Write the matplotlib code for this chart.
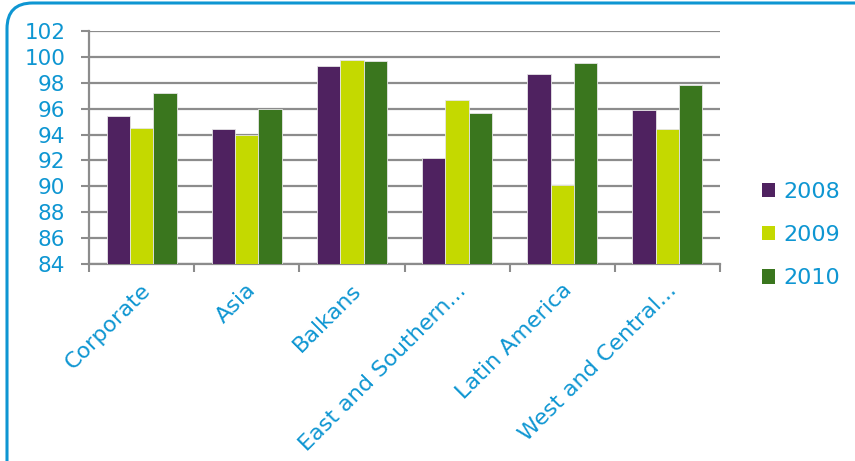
import matplotlib
matplotlib.use("Agg")
import matplotlib.pyplot as plt
from matplotlib.patches import FancyBboxPatch, Patch
from matplotlib.transforms import ScaledTranslation
import numpy as np

regions = ["Corporate", "Asia", "Balkans", "East and Southern...",
           "Latin America", "West and Central..."]
years = ["2008", "2009", "2010"]
v2008 = [95.4, 94.4, 99.3, 92.2, 98.7, 95.9]
v2009 = [94.5, 94.0, 99.75, 96.7, 90.1, 94.4]
v2010 = [97.2, 96.0, 99.65, 95.7, 99.5, 97.85]
yticks = list(range(84, 103, 2))

colors = ["#4f2260", "#c4d900", "#3a761e"]
blue = "#0e96d2"
grey = "#8c8c8c"

plt.rcParams["font.family"] = ["DejaVu Sans"]

fig = plt.figure(figsize=(8.55, 4.61), dpi=100)

# rounded frame running off the right and bottom edges
frame = FancyBboxPatch((7 / 855, -0.2), 1.2, 1.2 - 3 / 461,
                       boxstyle="round,pad=0,rounding_size=0.03",
                       transform=fig.transFigure, facecolor="white",
                       edgecolor=blue, linewidth=2.2, zorder=-5,
                       mutation_aspect=855 / 461)
fig.patches.append(frame)

ax = fig.add_axes([89 / 855, 1 - 264 / 461, (720 - 89) / 855, (264 - 31) / 461])
ax.set_facecolor("none")
ax.set_zorder(2)

x = np.arange(len(regions)) + 0.5
w = 1 / 4.5
for i, vals in enumerate([v2008, v2009, v2010]):
    ax.bar(x + (i - 1) * w, [v - 84 for v in vals], width=w, bottom=84,
           color=colors[i], edgecolor="#e6e6e6", linewidth=0.6, zorder=3,
           label=years[i])

ax.set_xlim(0, len(regions))
ax.set_ylim(84, 102)
ax.set_yticks(yticks)
ax.yaxis.grid(True, color=grey, linewidth=1.6, zorder=1)
ax.set_axisbelow(True)

ax.set_xticks(np.arange(len(regions) + 1))
ax.set_xticklabels([])
ax.set_xticks(x, minor=True)
ax.set_xticklabels(regions, minor=True, rotation=45, ha="right",
                   rotation_mode="anchor", fontsize=16, color=blue)
ax.tick_params(axis="x", which="minor", length=0, pad=8)
ax.tick_params(axis="x", which="major", length=6, width=1.5, color=grey)
ax.tick_params(axis="y", length=6, width=1.5, color=grey, labelsize=15.5,
               labelcolor=blue, pad=11)

# nudge the slanted category names
shift = ScaledTranslation(-1 / 100, -5 / 100, fig.dpi_scale_trans)
for lbl in ax.get_xticklabels(minor=True):
    lbl.set_transform(lbl.get_transform() + shift)

for side in ["top", "right"]:
    ax.spines[side].set_visible(False)
for side in ["left", "bottom"]:
    ax.spines[side].set_color(grey)
    ax.spines[side].set_linewidth(1.6)

handles = [Patch(facecolor=c, edgecolor="none") for c in colors]
leg = fig.legend(handles, years, loc="center left",
                 bbox_to_anchor=(742 / 855, 1 - 235 / 461), frameon=False,
                 fontsize=16, handlelength=0.6, handleheight=0.6,
                 handletextpad=0.35, labelspacing=1.05)
for t in leg.get_texts():
    t.set_color(blue)

fig.savefig("out.png", dpi=100)
